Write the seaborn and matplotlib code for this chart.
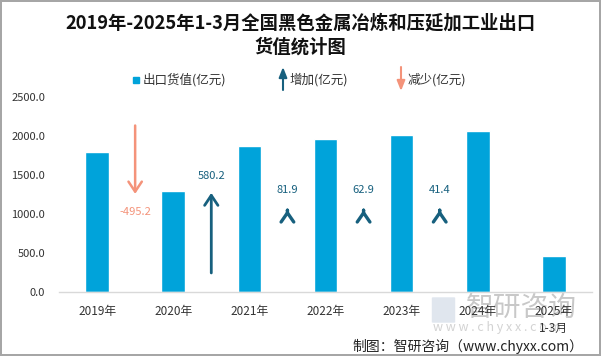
import matplotlib
matplotlib.use("Agg")
import matplotlib.pyplot as plt
import seaborn as sns
import pandas as pd
from matplotlib.patches import FancyBboxPatch

# ---------------- data ----------------
years = ["2019年", "2020年", "2021年", "2022年", "2023年", "2024年", "2025年\n1-3月"]
export_value = [1786.0, 1290.8, 1871.0, 1952.9, 2015.8, 2057.2, 465.0]
change = [-495.2, 580.2, 81.9, 62.9, 41.4]
y_ticks = [0, 500, 1000, 1500, 2000, 2500]

# annotation layout (data units): where arrow tips and labels sit
arrow_tip_y = [1256, 1269, 1051, 1051, 1051]
label_y = [1026, 1487, 1308, 1308, 1308]
arrow_scale = 1.767  # arrow length per unit of change

BAR = "#00A3DA"
UP = "#17607E"
DOWN = "#F4937A"

sns.set_theme(style="white")
plt.rcParams["font.family"] = ["Noto Sans CJK SC", "DejaVu Sans"]
plt.rcParams["axes.unicode_minus"] = False

fig = plt.figure(figsize=(6.01, 3.56), dpi=100)
fig.patch.set_facecolor("white")
fig.patch.set_edgecolor("#A6A6A6")
fig.patch.set_linewidth(1.5)

ax = fig.add_axes([59 / 601, 1 - 292 / 356, 533 / 601, (292 - 96.7) / 356])
ax.patch.set_alpha(0)

df = pd.DataFrame({"year": years, "value": export_value})
sns.barplot(data=df, x="year", y="value", color=BAR, width=0.31, saturation=1,
            ax=ax, zorder=2)

ax.set_xlim(-0.5, len(years) - 0.5)
ax.set_ylim(0, 2500)
ax.set_yticks(y_ticks)
ax.set_yticklabels([f"{v:.1f}" for v in y_ticks], fontsize=8, color="#333333")
ax.set_xlabel("")
ax.set_ylabel("")
ax.tick_params(axis="y", length=0, pad=10)
ax.tick_params(axis="x", length=0, pad=9, labelsize=8.5, labelcolor="#333333")
for lab in ax.get_xticklabels():
    lab.set_linespacing(1.45)
for s in ["top", "right", "left"]:
    ax.spines[s].set_visible(False)
ax.spines["bottom"].set_color("#D9D9D9")
ax.spines["bottom"].set_linewidth(1)

# change arrows between bars
for i, c in enumerate(change):
    x = i + 0.5
    col = UP if c > 0 else DOWN
    tip = arrow_tip_y[i]
    length = arrow_scale * abs(c)
    if length > 300:
        tail = tip - length if c > 0 else tip + length
        ax.annotate("", xy=(x, tip), xytext=(x, tail),
                    arrowprops=dict(arrowstyle="->,head_length=0.6,head_width=0.4",
                                    color=col, lw=2.0 if c > 0 else 1.8,
                                    shrinkA=0, shrinkB=0), zorder=3)
    else:
        ax.annotate("", xy=(x, tip), xytext=(0, -0.5), textcoords="offset points",
                    arrowprops=dict(arrowstyle="->,head_length=0.55,head_width=0.38",
                                    color=col, lw=2.4, shrinkA=0, shrinkB=0), zorder=3)
    ax.text(x, label_y[i], f"{c:.1f}", ha="center", va="center",
            fontsize=8, color=col, zorder=3)

# title
fig.text(0.5, 1 - 23 / 356, "2019年-2025年1-3月全国黑色金属冶炼和压延加工业出口",
         ha="center", va="center", fontsize=13.2, fontweight="bold", color="#111111")
fig.text(0.5, 1 - 47 / 356, "货值统计图",
         ha="center", va="center", fontsize=13.2, fontweight="bold", color="#111111")

# legend (manual)
ly = 1 - 80 / 356
fig.patches.append(plt.Rectangle((133 / 601, 1 - 83 / 356), 6 / 601, 6 / 356,
                                 transform=fig.transFigure, color=BAR))
fig.text(143 / 601, ly, "出口货值(亿元)", ha="left", va="center", fontsize=9, color="#333333")
fig.add_artist(plt.Annotation("", xy=(283 / 601, 1 - 67 / 356), xycoords="figure fraction",
                              xytext=(283 / 601, 1 - 90 / 356), textcoords="figure fraction",
                              arrowprops=dict(arrowstyle="-|>,head_length=0.5,head_width=0.2",
                                              color=UP, lw=1.5, shrinkA=0, shrinkB=0)))
fig.text(290 / 601, ly, "增加(亿元)", ha="left", va="center", fontsize=9, color="#333333")
fig.add_artist(plt.Annotation("", xy=(401 / 601, 1 - 91 / 356), xycoords="figure fraction",
                              xytext=(401 / 601, 1 - 67 / 356), textcoords="figure fraction",
                              arrowprops=dict(arrowstyle="-|>,head_length=0.5,head_width=0.2",
                                              color=DOWN, lw=1.5, shrinkA=0, shrinkB=0)))
fig.text(408 / 601, ly, "减少(亿元)", ha="left", va="center", fontsize=9, color="#333333")

# watermark
fig.patches.append(FancyBboxPatch((433 / 601, 1 - 322 / 356), 21 / 601, 24 / 356,
                                  boxstyle="round,pad=0.002", transform=fig.transFigure,
                                  facecolor="#D3DCE8", edgecolor="none", alpha=0.7, zorder=-1))
fig.text(466 / 601, 1 - 308 / 356, "智研咨询", ha="left", va="center", fontsize=20,
         color="#C8C8C8", zorder=-1)
fig.text(433 / 601, 1 - 328 / 356, "w w w . c h y x x . c o m", ha="left", va="center",
         fontsize=9, color="#D3D3D3", zorder=-1)

# source
fig.text(583 / 601, 1 - 346 / 356, "制图：智研咨询（www.chyxx.com）", ha="right", va="center",
         fontsize=10, color="#222222")

fig.savefig("out.png", dpi=100)
